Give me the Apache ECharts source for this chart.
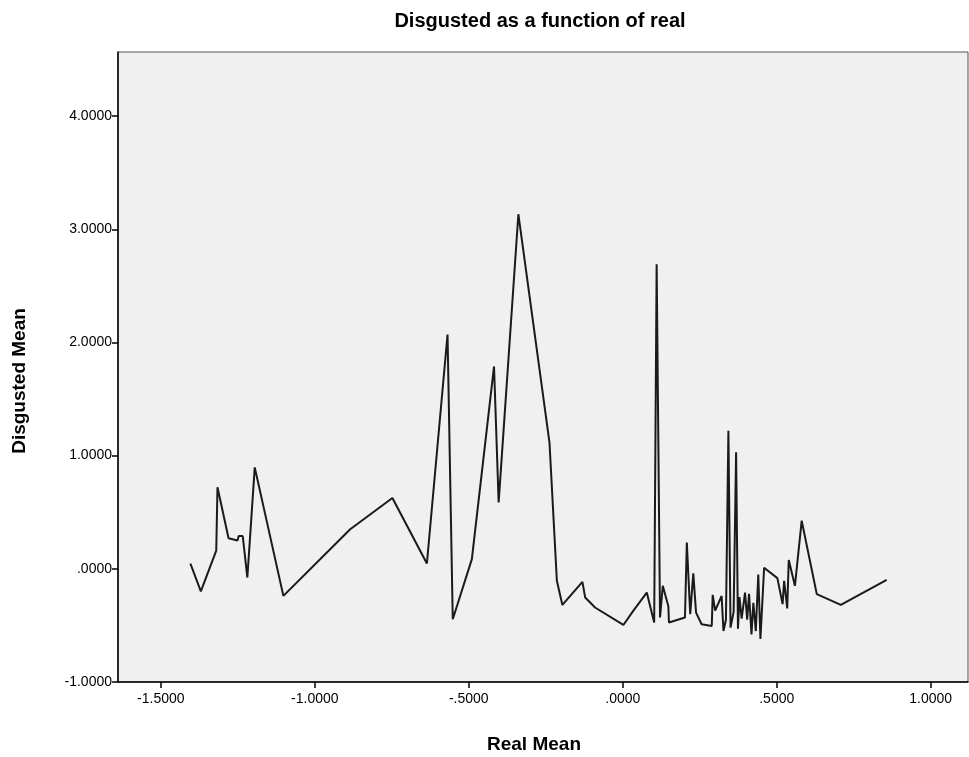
<!DOCTYPE html>
<html>
<head>
<meta charset="utf-8">
<script src="https://cdn.jsdelivr.net/npm/echarts@6/dist/echarts.min.js"></script>
<style>html,body{margin:0;padding:0;background:#fff;}#c{width:969px;height:757px;}</style>
</head>
<body>
<div id="c"></div>
<script>
const realMean = [-1.404,-1.370,-1.320,-1.316,-1.280,-1.251,-1.247,-1.234,-1.219,-1.195,-1.102,-0.885,-0.748,-0.636,-0.569,-0.552,-0.490,-0.418,-0.403,-0.339,-0.238,-0.214,-0.196,-0.131,-0.122,-0.090,0.002,0.034,0.078,0.102,0.110,0.121,0.130,0.148,0.150,0.202,0.208,0.219,0.229,0.238,0.256,0.289,0.292,0.300,0.321,0.327,0.335,0.343,0.350,0.360,0.368,0.374,0.379,0.386,0.397,0.404,0.410,0.418,0.424,0.432,0.440,0.447,0.459,0.502,0.519,0.524,0.534,0.539,0.559,0.581,0.630,0.708,0.857];
const disgustedMean = [0.047,-0.200,0.160,0.720,0.270,0.250,0.290,0.290,-0.077,0.896,-0.239,0.350,0.626,0.047,2.070,-0.445,0.086,1.788,0.587,3.133,1.118,-0.106,-0.319,-0.115,-0.254,-0.342,-0.496,-0.372,-0.210,-0.475,2.690,-0.430,-0.150,-0.330,-0.475,-0.430,0.233,-0.400,-0.040,-0.387,-0.490,-0.505,-0.230,-0.370,-0.240,-0.550,-0.450,1.220,-0.520,-0.380,1.030,-0.530,-0.250,-0.440,-0.210,-0.450,-0.220,-0.580,-0.300,-0.550,-0.050,-0.620,0.010,-0.082,-0.312,-0.106,-0.350,0.077,-0.150,0.425,-0.224,-0.319,-0.097];
const xTicks = [-1.5,-1.0,-0.5,0.0,0.5,1.0];
const yTicks = [-1,0,1,2,3,4];
const titleText = 'Disgusted as a function of real';
const xName = 'Real Mean';
const yName = 'Disgusted Mean';

function spssFmt(v){
  let s = Math.abs(v).toFixed(4);
  if (s.startsWith('0.')) s = s.slice(1);
  return (v < 0 ? '-' : '') + s;
}

const chart = echarts.init(document.getElementById('c'), null, {renderer:'canvas'});
const FONT = 'Liberation Sans, Arial, sans-serif';
chart.setOption({
  animation:false,
  backgroundColor:'#ffffff',
  graphic:[
    {type:'text',x:540,y:21,style:{text:titleText,fontFamily:FONT,fontSize:20,fontWeight:'bold',fill:'#000',textAlign:'center',textVerticalAlign:'middle'}},
    {type:'text',x:534,y:745,style:{text:xName,fontFamily:FONT,fontSize:19,fontWeight:'bold',fill:'#000',textAlign:'center',textVerticalAlign:'middle'}},
    {type:'text',x:20,y:381,rotation:Math.PI/2,style:{text:yName,fontFamily:FONT,fontSize:19,fontWeight:'bold',fill:'#000',textAlign:'center',textVerticalAlign:'middle'}}
  ],
  grid:{left:118,right:1,top:52,bottom:75,show:true,backgroundColor:'#f0f0f0',borderColor:'#555',borderWidth:1},
  xAxis:{type:'value',min:-1.639,max:1.121,
    axisLine:{show:true,onZero:false,lineStyle:{color:'#000',width:1.5}},
    axisTick:{show:true,inside:false,length:6,customValues:xTicks,lineStyle:{color:'#000',width:1.5}},
    axisLabel:{customValues:xTicks,formatter:spssFmt,fontFamily:FONT,fontSize:14,color:'#000',margin:10},
    splitLine:{show:false}},
  yAxis:{type:'value',min:-1,max:4.566,
    axisLine:{show:true,onZero:false,lineStyle:{color:'#000',width:1.5}},
    axisTick:{show:true,inside:false,length:6,customValues:yTicks,lineStyle:{color:'#000',width:1.5}},
    axisLabel:{customValues:yTicks,formatter:spssFmt,fontFamily:FONT,fontSize:14,color:'#000',margin:6},
    splitLine:{show:false}},
  series:[{type:'line',data:realMean.map((x,i)=>[x,disgustedMean[i]]),
    showSymbol:false,symbol:'none',lineStyle:{color:'#1a1a1a',width:2},clip:true}]
});
</script>
</body>
</html>
